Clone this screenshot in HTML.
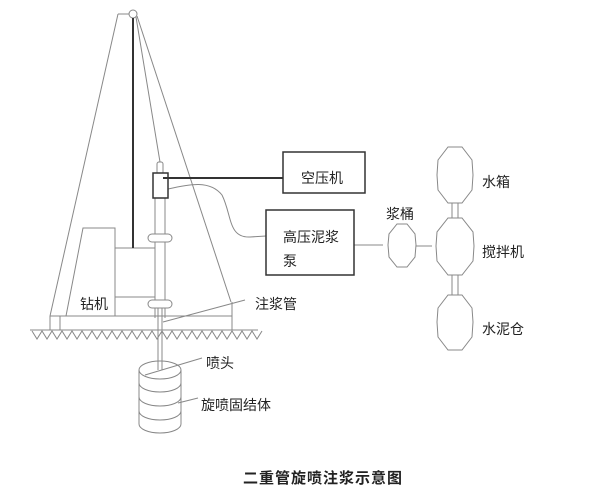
<!DOCTYPE html>
<html><head><meta charset="utf-8"><style>
html,body{margin:0;padding:0;background:#fff;}
svg{display:block}
text{font-family:"Liberation Sans","Noto Sans CJK SC",sans-serif;fill:#222;font-size:14px}
</style></head><body>
<svg width="603" height="496" viewBox="0 0 603 496" xmlns="http://www.w3.org/2000/svg">
<g fill="none" stroke="#888" stroke-width="1">
<line x1="118" y1="14" x2="50" y2="316"/>
<line x1="118" y1="14" x2="129" y2="14"/>
<line x1="137" y1="16" x2="231" y2="302"/>
<line x1="136" y1="17" x2="160" y2="162"/>
<circle cx="133" cy="14" r="4" fill="#fff"/>
<polyline points="66,316 83,228 115,228 115,316"/>
<polyline points="115,248 155,248"/>
<polyline points="115,297 155,297"/>
<line x1="232" y1="302" x2="232" y2="330"/>
<line x1="50" y1="316" x2="232" y2="316"/>
<line x1="50" y1="316" x2="50" y2="330"/>
<line x1="60" y1="316" x2="60" y2="330"/>
<line x1="30" y1="330" x2="258" y2="330"/>
<rect x="157" y="162" width="6" height="12" rx="2"/>
<line x1="155" y1="198" x2="155" y2="318"/>
<line x1="165" y1="198" x2="165" y2="318"/>
<rect x="148" y="234" width="24" height="8" rx="4" fill="#fff"/>
<rect x="148" y="300" width="24" height="8" rx="4" fill="#fff"/>
<line x1="158" y1="308" x2="158" y2="370"/>
<line x1="162" y1="308" x2="162" y2="370"/>
<line x1="163" y1="322" x2="245" y2="300"/>
<line x1="145" y1="375" x2="202" y2="358"/>
<line x1="178" y1="403" x2="198" y2="398"/>
<ellipse cx="160" cy="370" rx="21" ry="9"/>
<path d="M139,370 V424 A21,9 0 0 0 181,424 V370"/>
<path d="M139,383 A21,9 0 0 0 181,383"/>
<path d="M139,397 A21,9 0 0 0 181,397"/>
<path d="M139,411 A21,9 0 0 0 181,411"/>
<path d="M168,189 C190,184 210,180 222,195 C232,215 228,238 250,237 L266,236"/>
<line x1="354" y1="245" x2="383" y2="245"/>
<line x1="416" y1="246" x2="432" y2="246"/>
<line x1="452" y1="203" x2="452" y2="218"/>
<line x1="458" y1="203" x2="458" y2="218"/>
<line x1="452" y1="275" x2="452" y2="295"/>
<line x1="458" y1="275" x2="458" y2="295"/>
<polygon points="397,224 407,224 415,234 416,245 415,257 407,267 397,267 389,257 388,245 389,234"/>
<polygon points="448,147 462,147 472,160 473,175 472,190 462,203 448,203 438,190 437,175 438,160"/>
<polygon points="448,218 462,218 473,232 474,246 473,261 462,275 448,275 437,261 436,246 437,232"/>
<polygon points="448,295 462,295 472,308 473,322 472,337 462,350 448,350 438,337 437,322 438,308"/>
</g>
<g stroke="#333" fill="none">
<line x1="133" y1="18" x2="133" y2="248" stroke-width="2"/>
<rect x="153" y="173" width="15" height="25" stroke-width="1.5" fill="#fff"/>
<line x1="163" y1="178" x2="283" y2="178" stroke-width="2"/>
<rect x="283" y="152" width="82" height="41" stroke-width="1.5"/>
<rect x="266" y="210" width="88" height="65" stroke-width="1.5"/>
</g>
<path d="M32,331 l5,8 l5,-8 l5,8 l5,-8 l5,8 l5,-8 l5,8 l5,-8 l5,8 l5,-8 l5,8 l5,-8 l5,8 l5,-8 l5,8 l5,-8 l5,8 l5,-8 l5,8 l5,-8 l5,8 l5,-8 l5,8 l5,-8 l5,8 l5,-8 l5,8 l5,-8 l5,8 l5,-8 l5,8 l5,-8 l5,8 l5,-8 l5,8 l5,-8 l5,8 l5,-8 l5,8 l5,-8 l5,8 l5,-8 l5,8 l5,-8 l5,8 l5,-8" fill="none" stroke="#888"/>
<text x="80" y="309">钻机</text>
<text x="301" y="183">空压机</text>
<text x="283" y="242">高压泥浆</text>
<text x="283" y="266">泵</text>
<text x="386" y="219">浆桶</text>
<text x="482" y="187">水箱</text>
<text x="482" y="257">搅拌机</text>
<text x="482" y="334">水泥仓</text>
<text x="255" y="309">注浆管</text>
<text x="206" y="368">喷头</text>
<text x="201" y="410">旋喷固结体</text>
<text x="243" y="483" style="font-size:15px;font-weight:bold;letter-spacing:1px">二重管旋喷注浆示意图</text>
</svg>
</body></html>
